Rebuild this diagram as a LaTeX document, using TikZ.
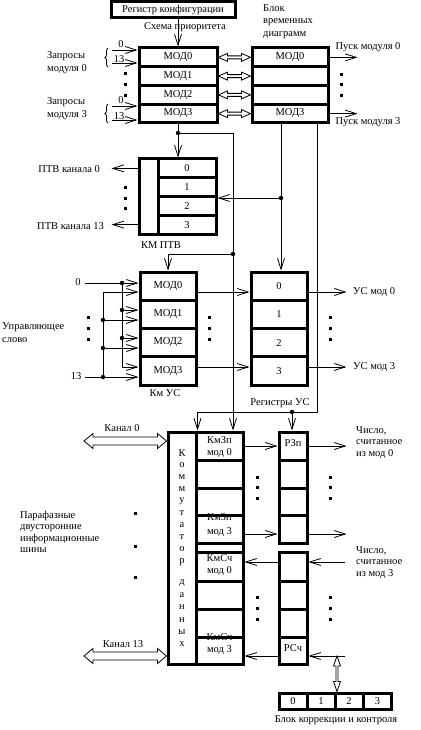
\documentclass[tikz,border=0pt]{standalone}
\usepackage{fontspec}
\setmainfont{Liberation Serif}
\usetikzlibrary{arrows.meta,calc,decorations.pathreplacing}
\newcommand\hollowH[5]{%
  \draw[ln,fill=white] let \p1=(#1), \p2=(#2) in
   (\x1,\y1) -- (\x1+#3,\y1+#4) -- (\x1+#3,\y1+#5) -- (\x2-#3,\y1+#5)
   -- (\x2-#3,\y1+#4) -- (\x2,\y1) -- (\x2-#3,\y1-#4) -- (\x2-#3,\y1-#5)
   -- (\x1+#3,\y1-#5) -- (\x1+#3,\y1-#4) -- cycle;}
\newcommand\hollowV[5]{%
  \draw[ln,fill=white] let \p1=(#1), \p2=(#2) in
   (\x1,\y1) -- (\x1+#4,\y1-#3) -- (\x1+#5,\y1-#3) -- (\x1+#5,\y2+#3)
   -- (\x1+#4,\y2+#3) -- (\x1,\y2) -- (\x1-#4,\y2+#3) -- (\x1-#5,\y2+#3)
   -- (\x1-#5,\y1-#3) -- (\x1-#4,\y1-#3) -- cycle;}
\begin{document}
\begin{tikzpicture}[x=1pt,y=-1pt,
  font=\fontsize{10.5}{12}\selectfont,
  ln/.style={line width=0.8pt},
  arr/.style={line width=0.8pt,-{Straight Barb[length=11pt,width=7pt]}},
  cell/.style={draw,line width=3pt,inner sep=0pt,minimum width=#1},
  jdot/.style={circle,fill,inner sep=0pt,minimum size=4.5pt},
  edot/.style={rectangle,fill,inner sep=0pt,minimum size=3pt},
  lbl/.style={inner sep=0pt},
]
\useasboundingbox[fill=white] (0,0) rectangle (420,730);

% ---------- top: priority scheme and timing block ----------
\node[cell=124,minimum height=16] (cfg) at (173,9.5) {Регистр конфигурации};
\node[lbl] (sch) at (185,27) {Схема приоритета};
\node[lbl,anchor=north west,align=left,font=\fontsize{10.5}{12.5}\selectfont] (btd) at (263,4) {Блок\\временных\\диаграмм};
\foreach \i/\t in {0/МОД0,1/МОД1,2/МОД2,3/МОД3}
  \node[cell=78,minimum height=18.75] (lm\i) at (178,{57.375+18.75*\i}) {\t};
\foreach \i/\t in {0/МОД0,1/,2/,3/МОД3}
  \node[cell=76,minimum height=18.75] (rm\i) at (290,{57.375+18.75*\i}) {\t};
\draw[arr] (lm0.north |- cfg.south) -- (lm0.north);
\foreach \i in {0,...,3} \hollowH{lm\i.east}{rm\i.west}{9pt}{4pt}{1.5pt};

\node[lbl,anchor=west,align=left,font=\fontsize{10.5}{13}\selectfont] (rq0) at (47,63) {Запросы\\модуля 0};
\node[lbl,anchor=west,align=left,font=\fontsize{10.5}{13}\selectfont] (rq3) at (47,108.5) {Запросы\\модуля 3};
\draw[ln,decorate,decoration={brace,amplitude=3pt}] (108,67) -- (108,48);
\draw[ln,decorate,decoration={brace,amplitude=3pt}] (108,123) -- (108,104);
\coordinate (qa0) at (112,50); \coordinate (qa1) at (112,63);
\coordinate (qb0) at (112,106); \coordinate (qb1) at (112,120);
\draw[arr] (qa0) -- (qa0 -| lm0.west);
\draw[arr] (qa1) -- (qa1 -| lm0.west);
\draw[arr] (qb0) -- (qb0 -| lm3.west);
\draw[arr] (qb1) -- (qb1 -| lm3.west);
\node[lbl] (t0a) at (121,44.5) {0};
\node[lbl] (t13a) at (119,59) {13};
\node[lbl] (t0b) at (121,100) {0};
\node[lbl] (t13b) at (119,116) {13};
\foreach \y [count=\k] in {74,85,96} \node[edot] (dl\k) at (125,\y) {};

\draw[arr] (rm0.east) -- ++(28,0) coordinate (po0);
\draw[arr] (rm3.east) -- ++(28,0) coordinate (po3);
\node[lbl] (pl0) at (368,47) {Пуск модуля 0};
\node[lbl] (pl3) at (368,122) {Пуск модуля 3};
\foreach \y [count=\k] in {75,85,96} \node[edot] (dr\k) at (341,\y) {};

% ---------- KM PTV ----------
\node[cell=19,minimum height=75] (ptvL) at (148.5,196.5) {};
\foreach \i in {0,...,3}
  \node[cell=58,minimum height=18.75] (p\i) at (187,{168.375+18.75*\i}) {\i};
\node[lbl] (ptvlab) at (161,245) {КМ ПТВ};
\draw[arr] (p0 -| ptvL.west) -- ++(-26,0);
\draw[arr] (p3 -| ptvL.west) -- ++(-26,0);
\node[lbl,anchor=east] (ptv0) at (100,169) {ПТВ канала 0};
\node[lbl,anchor=east] (ptv13) at (104,226) {ПТВ канала 13};
\foreach \y [count=\k] in {187,198,208} \node[edot] (dp\k) at (125,\y) {};

% ---------- KM US and registers US ----------
\foreach \i/\t in {0/МОД0,1/МОД1,2/МОД2,3/МОД3}
  \node[cell=56,minimum height=28.25] (u\i) at (168,{286.125+28.25*\i}) {\t};
\foreach \i in {0,...,3}
  \node[cell=56,minimum height=28.25] (r\i) at (279,{286.125+28.25*\i}) {\i};
\node[lbl] (kmus) at (165,393) {Км УС};
\node[lbl] (regus) at (280,403) {Регистры УС};

\foreach \i/\ya/\yb in {0/283/292,1/310/320,2/338/348,3/367/377}{
  \coordinate (ua\i) at (122,\ya); \coordinate (ub\i) at (103,\yb);}
\coordinate (in0) at (85,283); \coordinate (in13) at (85,377);
\node[lbl] (l0) at (78,282) {0};
\node[lbl] (l13) at (76,376) {13};
\draw[arr] (in0) -- (ua0 -| u0.west);
\draw[ln] (ua0) -- (ua3);
\foreach \i in {1,2,3} \draw[arr] (ua\i) -- (ua\i -| u\i.west);
\draw[arr] (in13) -- (ub3 -| u3.west);
\draw[ln] (ub0) -- (ub3);
\foreach \i in {0,1,2} \draw[arr] (ub\i) -- (ub\i -| u\i.west);
\foreach \n in {ua0,ua1,ua2,ub1,ub2,ub3} \node[jdot] at (\n) {};
\node[lbl,anchor=west,align=left,font=\fontsize{10.5}{13}\selectfont] (ctrl) at (2,333) {Управляющее\\слово};
\foreach \y [count=\k] in {317,328,339} {
  \node[edot] (dc\k) at (88,\y) {};
  \node[edot] (dm\k) at (209,\y) {};
  \node[edot] (dq\k) at (330,\y) {};}
\draw[arr] (ub0 -| u0.east) -- (ub0 -| r0.west);
\draw[arr] (ua3 -| u3.east) -- (ua3 -| r3.west);
\draw[arr] (ub0 -| r0.east) -- ++(38,0) coordinate (uo0);
\draw[arr] (ua3 -| r3.east) -- ++(38,0) coordinate (uo3);
\node[lbl,anchor=west] (usm0) at (353,292) {УС мод 0};
\node[lbl,anchor=west] (usm3) at (353,367) {УС мод 3};

% ---------- data switch ----------
\node[cell=28,minimum height=232] (kl) at (182,548) {};
\foreach \i/\yc/\h in {1/446/28,2/474/28,3/501.5/27,4/529/28}{
  \node[cell=47,minimum height=\h] (kr\i) at (219.5,\yc) {};
  \node[cell=28,minimum height=\h] (z\i) at (293,\yc) {};}
\node[cell=47,minimum height=9] (krg) at (219.5,547.5) {};
\foreach \i/\yc/\h in {5/566.5/29,6/595/28,7/623/28,8/650.5/27}{
  \node[cell=47,minimum height=\h] (kr\i) at (219.5,\yc) {};
  \node[cell=28,minimum height=\h] (z\i) at (293,\yc) {};}
\node[lbl] (tz1a) at (219.5,440) {КмЗп};
\node[lbl] (tz1b) at (219.5,453) {мод 0};
\node[lbl] (tz4a) at (219.5,517) {КмЗп};
\node[lbl] (tz4b) at (219.5,532) {мод 3};
\node[lbl] (tc5a) at (219.5,558) {КмСч};
\node[lbl] (tc5b) at (219.5,571) {мод 0};
\node[lbl] (tc8a) at (219.5,637) {КмСч};
\node[lbl] (tc8b) at (219.5,650) {мод 3};
\node[lbl] (rzp) at (293,443) {РЗп};
\node[lbl] (rsc) at (293,648) {РСч};
% the row borders run across the cut labels
\draw[line width=3pt] ([yshift=-1.5pt]kr4.north west) -- ([yshift=-1.5pt]kr4.north east);
\draw[line width=3pt] ([yshift=-1.5pt]kr8.north west) -- ([yshift=-1.5pt]kr8.north east);
\foreach \l/\y in {К/453,о/465,м/477,м/489,у/501,т/513,а/525,т/537,о/549,р/562,д/583,а/595,н/607,н/620,ы/632,х/644}
  \node[lbl] at (182,\y) {\l};

\draw[arr] (z1 -| kr1.east) -- (z1.west);
\draw[arr] (z1.east) -- ++(38,0) coordinate (zo1);
\coordinate (y534) at (0,534);
\draw[arr] (y534 -| kr4.east) -- (y534 -| z4.west);
\draw[arr] (y534 -| z4.east) -- ++(38,0) coordinate (zo4);
\coordinate (y562) at (0,562);
\draw[arr] (y562 -| z5.west) -- (y562 -| kr5.east);
\coordinate (zi5) at (345,562);
\draw[arr] (zi5) -- (y562 -| z5.east);
\coordinate (y656) at (0,656);
\draw[arr] (y656 -| z8.west) -- (y656 -| kr8.east);
\coordinate (zi8) at (345,656);
\draw[arr] (zi8) -- (y656 -| z8.east);
\foreach \y [count=\k] in {477,487,498} {
  \node[edot] (ez\k) at (257,\y) {};
  \node[edot] (fz\k) at (330,\y) {};}
\foreach \y [count=\k] in {597,608,619} {
  \node[edot] (ec\k) at (257,\y) {};
  \node[edot] (fc\k) at (330,\y) {};}
\node[lbl,anchor=north west,align=left,font=\fontsize{10.5}{11.5}\selectfont] (num0) at (356,426) {Число,\\считанное\\из мод 0};
\node[lbl,anchor=north west,align=left,font=\fontsize{10.5}{11.5}\selectfont] (num3) at (356,546) {Число,\\считанное\\из мод 3};

\coordinate (ch0) at (84,441); \coordinate (ch13) at (84,656);
\hollowH{ch0}{ch0 -| kl.west}{9pt}{7.5pt}{4pt}
\hollowH{ch13}{ch13 -| kl.west}{9pt}{7.5pt}{4pt}
\node[lbl] (kan0) at (122,428) {Канал 0};
\node[lbl] (kan13) at (123,644) {Канал 13};
\node[lbl,anchor=west,align=left,font=\fontsize{10.5}{11.5}\selectfont] (bus) at (20,532) {Парафазные\\двусторонние\\информационные\\шины};
\foreach \y [count=\k] in {513,546,577} \node[edot] (eb\k) at (135,\y) {};

% ---------- correction block ----------
\foreach \i/\x in {0/293,1/321,2/349,3/377.5}
  \node[cell=28,minimum height=16] (c\i) at (\x,701) {\i};
\node[lbl] (corr) at (336,720) {Блок коррекции и контроля};
\coordinate (lens) at (337,656);
\hollowV{lens}{lens |- c2.north}{10pt}{3.5pt}{1pt}

% ---------- wiring ----------
\coordinate (j1) at (178,133);
\coordinate (j2) at (233,254);
\coordinate (j3) at (281,198);
\coordinate (j4) at (317,412);
\coordinate (j5) at (292,412);
\draw[ln] (lm3.south) -- (j1);
\draw[arr] (j1) -- (j1 |- ptvL.north);
\draw[ln] (j1) -- (j1 -| j2) -- (j2);
\draw[arr] (j2) -- (j2 |- kr1.north);
\draw[arr] (j2) -| (u0.north);
\draw[arr] (j3 |- rm3.south) -- (j3 |- r0.north);
\draw[arr] (j3) -- (j3 -| p1.east);
\draw[ln] (j4 |- rm3.south) -- (j4) -- (j4 -| kl.east);
\draw[arr] (j4 -| kl.east) -- (kl.north east);
\draw[arr] (j5) -- (j5 |- z1.north);
\foreach \n in {j1,j2,j3,j5} \node[jdot] at (\n) {};
\end{tikzpicture}
\end{document}
